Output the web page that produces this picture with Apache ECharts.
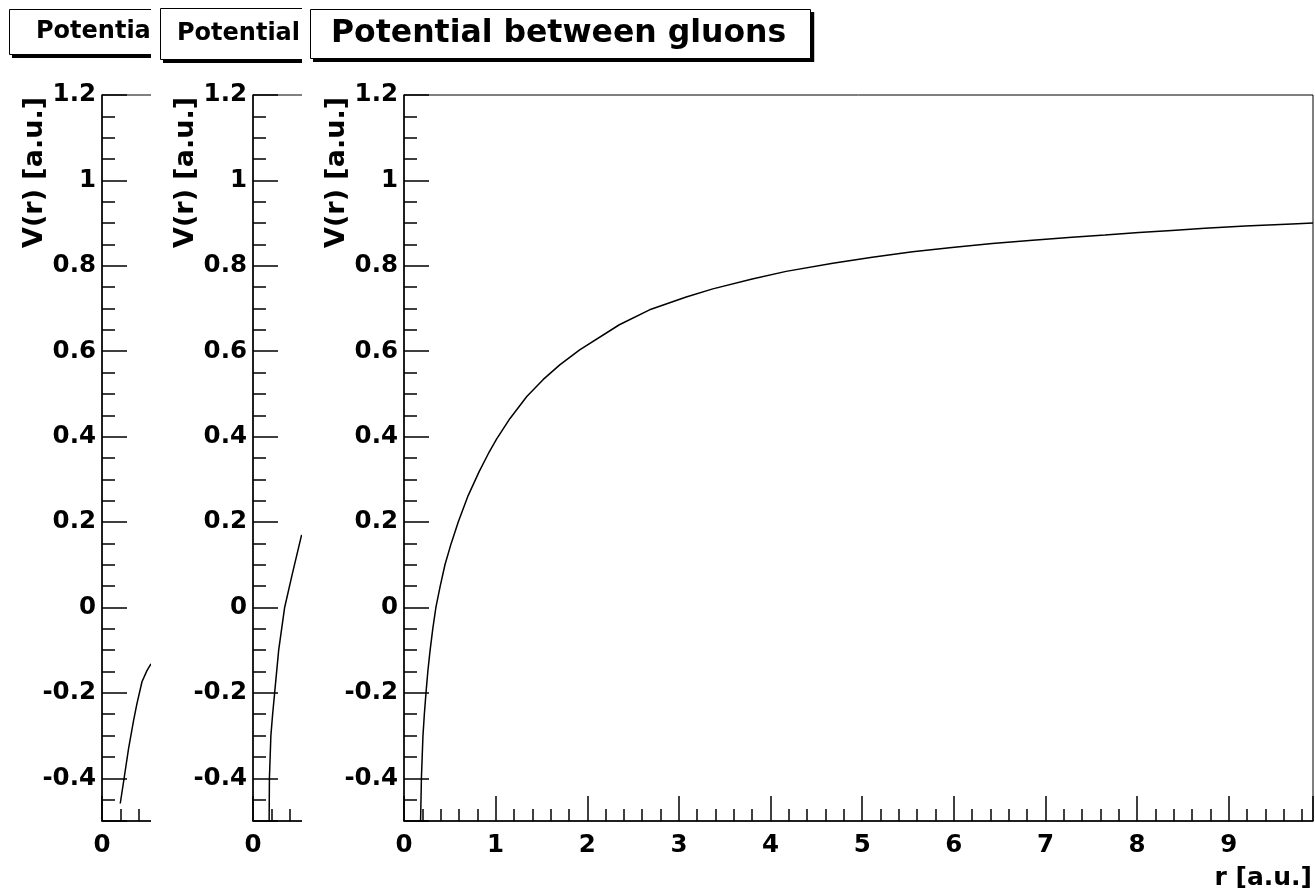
<!DOCTYPE html>
<html>
<head>
<meta charset="utf-8">
<script src="https://cdn.jsdelivr.net/npm/echarts@6/dist/echarts.min.js"></script>
<style>
html,body{margin:0;padding:0;background:#fff;}
#c{width:1315px;height:896px;}
</style>
</head>
<body>
<div id="c"></div>
<script>
// ---- text ----
const titleMain = 'Potential between gluons';
const titleSmall = 'Potential';
const xName = 'r [a.u.]';
const yName = 'V(r) [a.u.]';

// ---- axis ranges ----
const yMin = -0.5, yMax = 1.2;
const xMaxMain = 9.92;
const xMaxSmall = 0.567;

// ---- main panel curve (r, V) ----
const rMain = [0.181, 0.190, 0.207, 0.222, 0.240, 0.260, 0.285, 0.314, 0.348, 0.395, 0.447, 0.515, 0.592, 0.700, 0.820, 0.920, 1.010, 1.155, 1.340, 1.520, 1.700, 1.917, 2.350, 2.680, 3.080, 3.370, 3.800, 4.170, 4.680, 5.110, 5.550, 5.980, 6.420, 6.860, 7.290, 7.650, 8.020, 8.380, 8.740, 9.180, 9.690, 9.920];
const vMain = [-0.500, -0.400, -0.300, -0.250, -0.200, -0.150, -0.100, -0.050, 0.000, 0.050, 0.100, 0.150, 0.200, 0.262, 0.318, 0.360, 0.394, 0.442, 0.494, 0.534, 0.568, 0.603, 0.662, 0.697, 0.727, 0.746, 0.769, 0.787, 0.806, 0.820, 0.833, 0.843, 0.852, 0.860, 0.867, 0.872, 0.878, 0.883, 0.888, 0.893, 0.898, 0.900];

// ---- middle panel curve ----
const rMid = [0.176, 0.179, 0.195, 0.214, 0.236, 0.280, 0.345, 0.430, 0.530];
const vMid = [-0.50, -0.40, -0.30, -0.25, -0.20, -0.10, 0.00, 0.08, 0.17];

// ---- left panel curve ----
const rLeft = [0.199, 0.243, 0.290, 0.344, 0.381, 0.436, 0.490, 0.534];
const vLeft = [-0.459, -0.397, -0.330, -0.265, -0.225, -0.174, -0.148, -0.132];

const FONT = 'DejaVu Sans';
const BLACK = '#000';
const LABEL_SIZE = 24.5;

function pairs(xs, ys) { return xs.map((x, i) => [x, ys[i]]); }

function textWidth(text, size) {
  const ctx = document.createElement('canvas').getContext('2d');
  ctx.font = 'bold ' + size + 'px "' + FONT + '"';
  return ctx.measureText(text).width;
}

function xAxisOf(gridIndex, max, z, withName) {
  return {
    type: 'value', gridIndex: gridIndex, min: 0, max: max, interval: 1, z: z,
    axisLine: { show: true, onZero: false, lineStyle: { color: BLACK, width: 1.5 } },
    axisTick: { show: true, inside: true, length: 25, lineStyle: { color: BLACK, width: 1.5 } },
    minorTick: { show: true, splitNumber: 5, length: 12, lineStyle: { color: BLACK, width: 1.5 } },
    splitLine: { show: false },
    axisLabel: { show: true, margin: 12, color: BLACK, fontFamily: FONT, fontWeight: 'bold', fontSize: LABEL_SIZE, showMaxLabel: false, showMinLabel: true },
    name: withName ? xName : '',
    nameLocation: 'end', nameGap: -1, nameMoveOverlap: false,
    nameTextStyle: { color: BLACK, fontFamily: FONT, fontWeight: 'bold', fontSize: 25, lineHeight: 26, align: 'right', verticalAlign: 'top', padding: [44, 0, 0, 0] }
  };
}

function yAxisOf(gridIndex, z) {
  return {
    type: 'value', gridIndex: gridIndex, min: yMin, max: yMax, splitNumber: 8, z: z,
    axisLine: { show: true, onZero: false, lineStyle: { color: BLACK, width: 1.5 } },
    axisTick: { show: true, inside: true, length: 25, lineStyle: { color: BLACK, width: 1.5 } },
    minorTick: { show: true, splitNumber: 4, length: 13, lineStyle: { color: BLACK, width: 1.5 } },
    splitLine: { show: false },
    axisLabel: { show: true, margin: 6, color: BLACK, fontFamily: FONT, fontWeight: 'bold', fontSize: LABEL_SIZE, showMinLabel: false, showMaxLabel: true },
    name: yName, nameLocation: 'end', nameGap: -2, nameRotate: 90, nameMoveOverlap: false,
    nameTextStyle: { color: BLACK, fontFamily: FONT, fontWeight: 'bold', fontSize: 27, lineHeight: 26, align: 'right', verticalAlign: 'bottom', padding: [0, 0, 54, 0] }
  };
}

// title boxes
const boxes = [
  { text: titleSmall, left: 9, top: 9, pad: [6, 200, 6, 27], size: 24, z: 10 },
  { text: titleSmall, left: 160, top: 8, pad: [9, 200, 9, 17], size: 24, z: 20 },
  { text: titleMain, left: 310, top: 9, pad: [8, 25, 8, 21], size: 31.5, z: 30 }
];
const LINE_H = 34;

function titleOf(b) {
  return {
    text: b.text, left: b.left, top: b.top, z: b.z + 2, padding: b.pad,
    backgroundColor: '#fff', borderColor: BLACK, borderWidth: 1,
    textStyle: { color: BLACK, fontFamily: FONT, fontWeight: 'bold', fontSize: b.size, lineHeight: LINE_H }
  };
}
function shadowOf(b) {
  const w = textWidth(b.text, b.size) + b.pad[1] + b.pad[3];
  const h = LINE_H + b.pad[0] + b.pad[2];
  return { type: 'rect', z: b.z + 1, silent: true,
    shape: { x: b.left + 3, y: b.top + 3, width: w, height: h }, style: { fill: BLACK } };
}

function lineOf(idx, data, z) {
  return {
    type: 'line', xAxisIndex: idx, yAxisIndex: idx, data: data, z: z,
    symbol: 'none', showSymbol: false, smooth: false, clip: true,
    lineStyle: { color: BLACK, width: 1.5 }, silent: true
  };
}

const chart = echarts.init(document.getElementById('c'), null, { renderer: 'canvas' });
chart.setOption({
  animation: false,
  backgroundColor: '#fff',
  title: boxes.map(titleOf),
  grid: [
    { left: 102, top: 95, width: 52, height: 726, show: true, borderColor: BLACK, borderWidth: 1, backgroundColor: '#fff', z: 12 },
    { left: 253, top: 95, width: 52, height: 726, show: true, borderColor: BLACK, borderWidth: 1, backgroundColor: '#fff', z: 22 },
    { left: 404, top: 95, width: 910, height: 726, show: true, borderColor: BLACK, borderWidth: 1, backgroundColor: '#fff', z: 32 }
  ],
  xAxis: [
    xAxisOf(0, xMaxSmall, 12, false),
    xAxisOf(1, xMaxSmall, 22, false),
    xAxisOf(2, xMaxMain, 32, true)
  ],
  yAxis: [
    yAxisOf(0, 12),
    yAxisOf(1, 22),
    yAxisOf(2, 32)
  ],
  graphic: boxes.map(shadowOf).concat([
    { type: 'rect', z: 19, silent: true, shape: { x: 151, y: 0, width: 1200, height: 896 }, style: { fill: '#fff' } },
    { type: 'rect', z: 29, silent: true, shape: { x: 302, y: 0, width: 1100, height: 896 }, style: { fill: '#fff' } }
  ]),
  series: [
    lineOf(0, pairs(rLeft, vLeft), 13),
    lineOf(1, pairs(rMid, vMid), 23),
    lineOf(2, pairs(rMain, vMain), 33)
  ]
});
</script>
</body>
</html>
